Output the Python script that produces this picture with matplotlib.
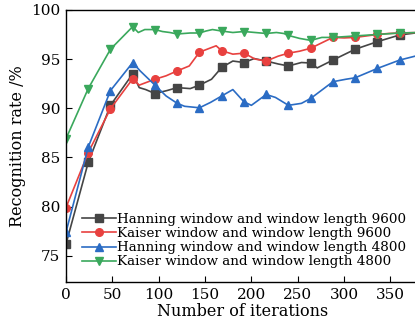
import matplotlib

matplotlib.use("Agg")
import matplotlib.pyplot as plt

plt.rcParams["font.family"] = ["DejaVu Serif"]
plt.rcParams["mathtext.fontset"] = "dejavuserif"

# iterations / recognition rate (%)
hann_9600_x = [0, 24, 48, 72, 79, 86, 96, 109, 120, 134, 144, 157, 168, 180, 192,
               203, 216, 229, 240, 254, 264, 271, 288, 312, 336, 360, 381]
hann_9600_y = [76.2, 84.5, 90.3, 93.5, 92.1, 91.9, 91.5, 91.8, 92.1, 92.0, 92.35,
               92.95, 94.15, 94.8, 94.65, 95.05, 94.8, 94.5, 94.3, 94.65, 94.6,
               94.1, 94.9, 96.0, 96.77, 97.45, 97.7]

kaiser_9600_x = [0, 24, 48, 72, 79, 86, 96, 108, 120, 133, 144, 155, 162, 168, 180,
                 192, 204, 216, 229, 240, 252, 264, 277, 288, 300, 312, 324, 336,
                 348, 360, 381]
kaiser_9600_y = [79.9, 85.5, 89.95, 93.0, 92.35, 92.6, 92.95, 93.3, 93.8, 94.3,
                 95.7, 96.1, 96.35, 95.85, 95.5, 95.6, 95.0, 94.8, 95.3, 95.6, 95.8,
                 96.1, 96.7, 97.2, 97.15, 97.2, 97.35, 97.5, 97.6, 97.65, 97.7]

hann_4800_x = [0, 24, 48, 72, 80, 96, 108, 120, 128, 144, 156, 168, 180, 192, 200,
               216, 226, 240, 254, 264, 288, 302, 312, 336, 360, 381]
hann_4800_y = [77.4, 86.05, 91.8, 94.65, 93.8, 92.35, 91.25, 90.5, 90.2, 90.05,
               90.6, 91.25, 91.9, 90.65, 90.3, 91.4, 91.1, 90.3, 90.5, 91.0, 92.7,
               92.95, 93.1, 94.05, 94.9, 95.4]

kaiser_4800_x = [0, 24, 48, 72, 78, 85, 96, 104, 112, 120, 134, 144, 151, 158, 168,
                 180, 192, 204, 216, 227, 235, 240, 252, 264, 276, 288, 312, 336,
                 360, 381]
kaiser_4800_y = [86.9, 92.0, 96.0, 98.3, 97.7, 98.0, 98.0, 97.8, 97.7, 97.55,
                 97.65, 97.65, 97.85, 98.0, 97.85, 97.7, 97.8, 97.7, 97.6, 97.7,
                 97.6, 97.4, 97.1, 96.9, 97.2, 97.2, 97.35, 97.5, 97.65, 97.7]

labels = [
    "Hanning window and window length 9600",
    "Kaiser window and window length 9600",
    "Hanning window and window length 4800",
    "Kaiser window and window length 4800",
]

MARK_STEP = 24

series = [
    (hann_9600_x, hann_9600_y, "#454545", "s"),
    (kaiser_9600_x, kaiser_9600_y, "#e8413f", "o"),
    (hann_4800_x, hann_4800_y, "#2b6cc4", "^"),
    (kaiser_4800_x, kaiser_4800_y, "#3aa85c", "v"),
]

fig = plt.figure(figsize=(4.15, 3.29), dpi=100)
ax = fig.add_axes([0.159, 0.143, 0.851, 0.827])

for (xs, ys, color, marker), label in zip(series, labels):
    marks = [i for i, x in enumerate(xs) if x % MARK_STEP == 0]
    ax.plot(xs, ys, color=color, lw=1.2, marker=marker, markersize=5.5,
            markevery=marks, label=label)

ax.set_xlim(0, 381)
ax.set_ylim(72.35, 100)
ax.set_xticks(range(0, 351, 50))
ax.set_yticks(range(75, 101, 5))
ax.tick_params(direction="in", length=4, width=0.8, labelsize=11, pad=4)
for spine in ax.spines.values():
    spine.set_linewidth(1.0)

ax.set_xlabel("Number of iterations", fontsize=11.5, labelpad=1)
ax.set_ylabel("Recognition rate /%", fontsize=11.5, labelpad=4)

ax.legend(loc="lower left", bbox_to_anchor=(0.045, 0.05), frameon=False,
          fontsize=9.7, handlelength=2.5, handletextpad=0.1, labelspacing=0.08,
          borderpad=0.0, borderaxespad=0.0)

fig.savefig("out.png", dpi=100)
